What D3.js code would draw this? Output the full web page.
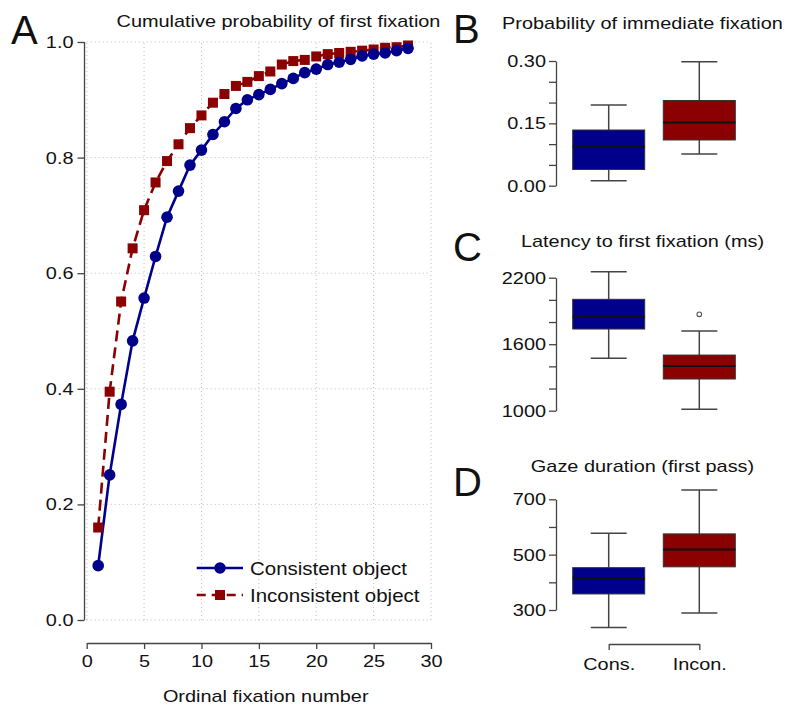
<!DOCTYPE html>
<html>
<head>
<meta charset="utf-8">
<script src="https://cdn.jsdelivr.net/npm/d3@7"></script>
<style>
  body { margin: 0; background: #fff; }
  svg text { font-family: "Liberation Sans", Arial, sans-serif; fill: #111; }
</style>
</head>
<body>
<div id="chart"></div>
<script>
// ---- data ----
var fixNum = [1, 2, 3, 4, 5, 6, 7, 8, 9, 10, 11, 12, 13, 14, 15, 16, 17, 18, 19, 20, 21, 22, 23, 24, 25, 26, 27, 28];
var consistent = [0.094, 0.251, 0.373, 0.483, 0.557, 0.629, 0.697, 0.742, 0.787, 0.813, 0.840, 0.862, 0.885, 0.900,
    0.909, 0.918, 0.928, 0.937, 0.947, 0.953, 0.961, 0.965, 0.970, 0.976, 0.979, 0.981, 0.985, 0.989];
var inconsistent = [0.160, 0.395, 0.551, 0.643, 0.709, 0.757, 0.794, 0.823, 0.851, 0.873, 0.895, 0.910, 0.924, 0.931,
    0.941, 0.949, 0.961, 0.967, 0.969, 0.975, 0.979, 0.981, 0.983, 0.985, 0.987, 0.990, 0.991, 0.994];
var xTicksA = [0, 5, 10, 15, 20, 25, 30];
var yTicksA = [0, 0.2, 0.4, 0.6, 0.8, 1.0];

var groups = ["Cons.", "Incon."];
// [whisker low, Q1, median, Q3, whisker high]
var probCons = [0.012, 0.039, 0.094, 0.134, 0.194];
var probIncon = [0.076, 0.110, 0.152, 0.205, 0.298];
var latCons = [1473, 1737, 1848, 2005, 2254];
var latIncon = [1012, 1286, 1403, 1502, 1719];
var latOutliers = [[], [1870]];
var gazeCons = [237, 358, 414, 453, 577];
var gazeIncon = [289, 456, 519, 575, 734];

var BLUE = "#00008b", RED = "#8b0000", AXIS = "#444";
var SX = 1.17; // text in the figure is stretched horizontally

var svg = d3.select("#chart").append("svg")
    .attr("width", 792).attr("height", 705);

function label(g, x, y, str, size, anchor) {
    return g.append("text")
        .attr("transform", "translate(" + x + "," + y + ") scale(" + SX + ",1)")
        .attr("text-anchor", anchor || "middle")
        .style("font-size", size + "px")
        .text(str);
}

// stretch the tick labels of an axis group
function stretchTicks(ax, anchor) {
    ax.selectAll(".tick text").each(function () {
        var t = d3.select(this);
        var x = +t.attr("x") || 0, y = +t.attr("y") || 0;
        t.attr("x", null).attr("y", null)
            .attr("transform", "translate(" + x + "," + y + ") scale(" + SX + ",1)")
            .attr("text-anchor", anchor)
            .style("font-size", "17px");
    });
    ax.selectAll("path, line").attr("stroke", AXIS).attr("stroke-width", 1.3);
}

// ---------------- panel A ----------------
var xA = d3.scaleLinear().domain([0, 30]).range([86.7, 431]);
var yA = d3.scaleLinear().domain([0, 1]).range([620, 42]);
var gA = svg.append("g");

// dotted grid
gA.selectAll(".vgrid").data(xTicksA).enter().append("line")
    .attr("x1", function (d) { return xA(d); }).attr("x2", function (d) { return xA(d); })
    .attr("y1", yA(0)).attr("y2", yA(1))
    .attr("stroke", "#bbb").attr("stroke-dasharray", "1,3");
gA.selectAll(".hgrid").data(yTicksA).enter().append("line")
    .attr("x1", xA(0)).attr("x2", xA(30))
    .attr("y1", function (d) { return yA(d); }).attr("y2", function (d) { return yA(d); })
    .attr("stroke", "#bbb").attr("stroke-dasharray", "1,3");

var axYA = gA.append("g").attr("transform", "translate(84.5,0)")
    .call(d3.axisLeft(yA).tickValues(yTicksA).tickFormat(d3.format(".1f")).tickSize(7).tickSizeOuter(0).tickPadding(4));
stretchTicks(axYA, "end");
axYA.select(".domain").remove();
axYA.append("line").attr("x1", 0).attr("x2", 0).attr("y1", yA(0)).attr("y2", yA(1))
    .attr("stroke", AXIS).attr("stroke-width", 1.3);

var axXA = gA.append("g").attr("transform", "translate(0,643)")
    .call(d3.axisBottom(xA).tickValues(xTicksA).tickSize(6).tickSizeOuter(0).tickPadding(6));
stretchTicks(axXA, "middle");

var lineA = d3.line()
    .x(function (d, i) { return xA(fixNum[i]); })
    .y(function (d) { return yA(d); });

gA.append("path").datum(inconsistent).attr("d", lineA)
    .attr("fill", "none").attr("stroke", RED).attr("stroke-width", 2.6)
    .attr("stroke-dasharray", "11,6");
gA.append("path").datum(consistent).attr("d", lineA)
    .attr("fill", "none").attr("stroke", BLUE).attr("stroke-width", 2.6);

gA.selectAll(".sq").data(inconsistent).enter().append("rect")
    .attr("x", function (d, i) { return xA(fixNum[i]) - 5; })
    .attr("y", function (d) { return yA(d) - 5; })
    .attr("width", 10).attr("height", 10).attr("fill", RED);
gA.selectAll(".dot").data(consistent).enter().append("circle")
    .attr("cx", function (d, i) { return xA(fixNum[i]); })
    .attr("cy", function (d) { return yA(d); })
    .attr("r", 5.8).attr("fill", BLUE);

// legend
var leg = gA.append("g");
leg.append("line").attr("x1", 196.7).attr("x2", 243).attr("y1", 568).attr("y2", 568)
    .attr("stroke", BLUE).attr("stroke-width", 2.6);
leg.append("circle").attr("cx", 220).attr("cy", 568).attr("r", 5.8).attr("fill", BLUE);
leg.append("line").attr("x1", 196.7).attr("x2", 243).attr("y1", 595).attr("y2", 595)
    .attr("stroke", RED).attr("stroke-width", 2.6).attr("stroke-dasharray", "9,6");
leg.append("rect").attr("x", 215).attr("y", 590).attr("width", 10).attr("height", 10).attr("fill", RED);
label(leg, 250, 575, "Consistent object", 17.5, "start");
label(leg, 250, 602, "Inconsistent object", 17.5, "start");

label(gA, 278.5, 26.5, "Cumulative probability of first fixation", 17);
label(gA, 265.7, 701.5, "Ordinal fixation number", 17);
svg.append("text").attr("x", 11).attr("y", 44).style("font-size", "40px").text("A");

// ---------------- box panels ----------------
var xB = d3.scalePoint().domain(groups).range([608.7, 699.3]);
var BOXW = 72;

function boxPanel(opt) {
    var g = svg.append("g");
    var y = d3.scaleLinear().domain(opt.domain).range(opt.range);
    var ax = g.append("g").attr("transform", "translate(556,0)")
        .call(d3.axisLeft(y).tickValues(opt.ticks).tickSize(7).tickSizeOuter(0).tickPadding(3)
            .tickFormat(function (d) { return opt.labels.indexOf(d) >= 0 ? opt.fmt(d) : ""; }));
    stretchTicks(ax, "end");

    var stats = [opt.cons, opt.incon];
    var colors = [BLUE, RED];
    stats.forEach(function (s, i) {
        var cx = xB(groups[i]);
        var bg = g.append("g");
        // whiskers
        bg.append("line").attr("x1", cx).attr("x2", cx).attr("y1", y(s[0])).attr("y2", y(s[1]))
            .attr("stroke", AXIS).attr("stroke-width", 1.5);
        bg.append("line").attr("x1", cx).attr("x2", cx).attr("y1", y(s[3])).attr("y2", y(s[4]))
            .attr("stroke", AXIS).attr("stroke-width", 1.5);
        [s[0], s[4]].forEach(function (v) {
            bg.append("line").attr("x1", cx - BOXW / 4).attr("x2", cx + BOXW / 4)
                .attr("y1", y(v)).attr("y2", y(v))
                .attr("stroke", AXIS).attr("stroke-width", 1.5);
        });
        bg.append("rect").attr("x", cx - BOXW / 2).attr("width", BOXW)
            .attr("y", y(s[3])).attr("height", y(s[1]) - y(s[3]))
            .attr("fill", colors[i]).attr("stroke", "#333").attr("stroke-width", 1);
        bg.append("line").attr("x1", cx - BOXW / 2).attr("x2", cx + BOXW / 2)
            .attr("y1", y(s[2])).attr("y2", y(s[2]))
            .attr("stroke", "#111").attr("stroke-width", 2);
        if (opt.outliers) {
            bg.selectAll(".out").data(opt.outliers[i]).enter().append("circle")
                .attr("cx", cx).attr("cy", function (d) { return y(d); }).attr("r", 2.3)
                .attr("fill", "none").attr("stroke", "#555").attr("stroke-width", 1.1);
        }
    });

    label(g, 642.5, opt.titleY, opt.title, 17);
    g.append("text").attr("x", 453).attr("y", opt.letterY).style("font-size", "40px").text(opt.letter);
    return g;
}

boxPanel({
    letter: "B", letterY: 43, title: "Probability of immediate fixation", titleY: 29,
    domain: [0, 0.30], range: [185.7, 61],
    ticks: [0, 0.05, 0.10, 0.15, 0.20, 0.25, 0.30], labels: [0, 0.15, 0.30], fmt: d3.format(".2f"),
    cons: probCons, incon: probIncon
});
boxPanel({
    letter: "C", letterY: 261, title: "Latency to first fixation (ms)", titleY: 247,
    domain: [1000, 2200], range: [410.7, 277.7],
    ticks: [1000, 1200, 1400, 1600, 1800, 2000, 2200], labels: [1000, 1600, 2200], fmt: d3.format("d"),
    cons: latCons, incon: latIncon, outliers: latOutliers
});
var gD = boxPanel({
    letter: "D", letterY: 496, title: "Gaze duration (first pass)", titleY: 472,
    domain: [300, 700], range: [610, 499.3],
    ticks: [300, 400, 500, 600, 700], labels: [300, 500, 700], fmt: d3.format("d"),
    cons: gazeCons, incon: gazeIncon
});

var axXD = gD.append("g").attr("transform", "translate(0,644)")
    .call(d3.axisBottom(xB).tickSize(6).tickSizeOuter(0).tickPadding(8));
stretchTicks(axXD, "middle");
</script>
</body>
</html>
